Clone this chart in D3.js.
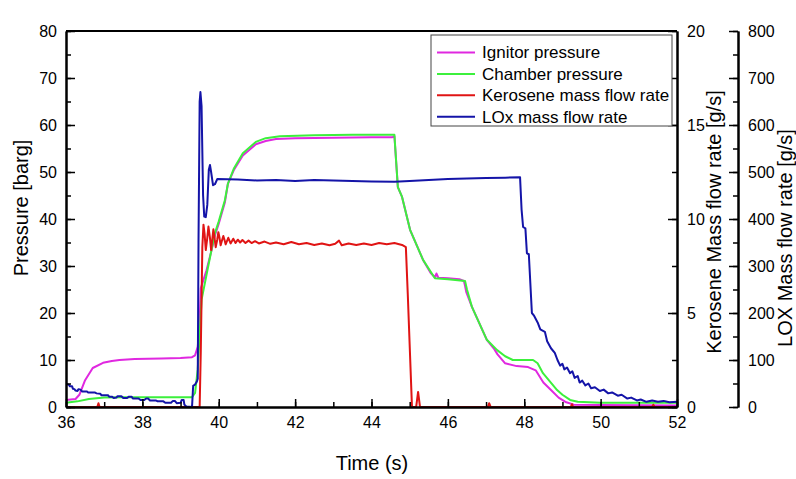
<!DOCTYPE html>
<html><head><meta charset="utf-8">
<script src="https://cdn.jsdelivr.net/npm/d3@7"></script>
<style>
body{margin:0;background:#fff}
text{font-family:Arial,"Liberation Sans",sans-serif;fill:#000}
</style>
</head><body>
<svg id="chart" width="796" height="479"></svg>
<script>
// ---------- DATA ----------
const timeDomain = [36, 52];
const pressureDomain = [0, 80];
const keroseneDomain = [0, 20];
const loxDomain = [0, 800];
const timeTicks = [36, 38, 40, 42, 44, 46, 48, 50, 52];
const pressureTicks = [0, 10, 20, 30, 40, 50, 60, 70, 80];
const keroseneTicks = [0, 5, 10, 15, 20];
const loxTicks = [0, 100, 200, 300, 400, 500, 600, 700, 800];
const seriesNames = ["Ignitor pressure", "Chamber pressure", "Kerosene mass flow rate", "LOx mass flow rate"];
const seriesColors = ["#e028e0", "#3cf03c", "#e01414", "#1414a8"];

// [time s, pressure barg]
const ignitorPressure = [
  [36.0,1.5],[36.25,1.7],[36.35,2.6],[36.5,5.7],[36.7,8.3],[36.97,9.4],[37.2,9.8],[37.4,10.0],
  [37.8,10.2],[38.5,10.3],[39.0,10.4],[39.3,10.6],[39.38,11.0],[39.45,12.8],[39.5,18],[39.53,25.3],
  [39.68,29.1],[39.8,33],[39.9,36.5],[40.0,39],[40.16,43.5],[40.24,47.5],[40.4,50.5],[40.63,53.5],
  [40.97,55.9],[41.23,56.6],[41.5,57.0],[42.0,57.2],[43.0,57.3],[44.0,57.4],[44.55,57.4],[44.6,57.6],
  [44.69,46.8],[44.8,44.7],[45.01,37.7],[45.35,31.3],[45.55,28.5],[45.66,27.6],[45.7,28.4],[45.75,27.5],
  [46.0,27.4],[46.3,27.2],[46.42,26.8],[46.45,25.8],[46.48,24.5],[46.63,21.3],[47.02,14.3],[47.2,12.5],
  [47.3,11.2],[47.5,9.3],[47.8,8.7],[48.1,8.5],[48.3,7.8],[48.5,5.2],[48.7,3.6],[48.9,2.0],[49.1,1.0],
  [49.3,0.5],[50.0,0.4],[52.0,0.3]
];
const chamberPressure = [
  [36.0,0.9],[36.3,1.2],[36.6,1.7],[37.0,2.0],[37.5,2.1],[38.5,2.1],[39.3,2.1],[39.38,3.0],[39.45,8],
  [39.55,22.8],[39.72,29.8],[39.9,37],[40.0,39.5],[40.16,44],[40.24,47.5],[40.4,50.8],[40.63,54],
  [40.97,56.4],[41.23,57.2],[41.6,57.6],[42.5,57.8],[43.5,57.9],[44.6,57.9],[44.69,46.8],[44.8,44.7],
  [45.01,37.7],[45.35,31.3],[45.66,27.4],[46.0,27.2],[46.45,26.8],[46.5,25],[46.63,21.3],[47.02,14.3],
  [47.29,12.1],[47.5,10.8],[47.7,10.0],[48.23,10.0],[48.35,9.3],[48.49,7.2],[48.86,3.6],[49.0,2.6],
  [49.2,1.5],[49.4,1.1],[50.0,0.9],[52.0,0.9]
];
// [time s, kerosene g/s]
const keroseneFlow = [
  [36.0,0],[36.82,0],[36.85,0.2],[36.88,0],[39.5,0],[39.53,3],[39.57,8.5],[39.6,9.7],[39.63,9.2],
  [39.66,8.35],[39.7,9.0],[39.73,9.6],[39.77,9.0],[39.8,8.35],[39.83,8.9],[39.86,9.45],[39.89,9.0],
  [39.92,8.5],[39.96,8.9],[39.99,9.3],[40.02,9.0],[40.05,8.6],[40.09,8.9],[40.12,9.1],[40.15,8.9],
  [40.18,8.65],[40.25,9.0],[40.31,8.7],[40.38,8.95],[40.44,8.72],[40.5,8.9],[40.56,8.75],[40.62,8.88],
  [40.7,8.72],[40.78,8.85],[40.86,8.72],[40.95,8.82],[41.05,8.7],[41.2,8.8],[41.35,8.68],[41.5,8.75],
  [41.7,8.66],[41.9,8.78],[42.1,8.66],[42.3,8.72],[42.5,8.62],[42.7,8.7],[42.9,8.6],[43.05,8.68],
  [43.15,8.85],[43.22,8.6],[43.4,8.7],[43.6,8.62],[43.8,8.7],[44.0,8.62],[44.2,8.72],[44.4,8.66],
  [44.6,8.72],[44.8,8.62],[44.9,8.5],[44.95,6],[45.06,0],[45.17,0],[45.22,0.8],[45.27,0],[47.05,0],
  [47.08,0.2],[47.12,0],[49.22,0],[49.25,0.15],[49.28,0],[51.35,0],[51.38,0.12],[51.41,0],[52.0,0]
];
// [time s, LOx g/s]
const loxFlow = [
  [36.0,49],[36.08,47],[36.1,44],[36.16,44],[36.18,39],[36.22,38],[36.25,35],[36.3,34],[36.33,38],
  [36.38,37],[36.42,33],[36.55,33],[36.58,31],[36.75,31],[36.8,29],[36.9,28],[36.93,25],[37.1,25],
  [37.13,22],[37.2,22],[37.25,19],[37.32,20],[37.35,23],[37.45,23],[37.5,19],[37.6,19],[37.65,22],
  [37.72,22],[37.75,18],[37.9,18],[37.95,15],[38.05,15],[38.1,18],[38.15,18],[38.2,14],[38.35,14],
  [38.4,12],[38.55,12],[38.6,9],[38.75,9],[38.8,13],[38.85,13],[38.9,8],[39.0,9],[39.03,15],[39.08,15],
  [39.1,5],[39.15,1],[39.3,0],[39.33,45],[39.38,48],[39.43,55],[39.45,60],[39.47,350],[39.5,650],
  [39.52,670],[39.55,640],[39.59,450],[39.62,405],[39.66,404],[39.7,430],[39.74,505],[39.77,515],
  [39.8,500],[39.85,472],[39.9,474],[39.96,485],[40.5,484],[41.0,482],[41.5,483],[42.0,481],[42.5,483],
  [43.0,482],[43.5,481],[44.0,480],[44.6,479],[45.0,481],[45.5,483],[46.0,485],[46.5,486],[47.0,487],
  [47.5,488],[47.89,489],[47.93,420],[47.97,383],[48.03,380],[48.07,327],[48.12,325],[48.2,200],
  [48.25,195],[48.35,180],[48.42,165],[48.54,160],[48.6,140],[48.7,125],[48.8,115],[48.87,100],
  [48.94,88],[49.0,92],[49.05,80],[49.12,84],[49.2,72],[49.26,76],[49.32,62],[49.4,66],[49.45,52],
  [49.52,56],[49.6,46],[49.68,50],[49.75,40],[49.85,42],[49.98,34],[50.08,37],[50.2,29],[50.3,31],
  [50.45,24],[50.55,26],[50.7,18],[50.8,20],[50.95,14],[51.05,16],[51.2,11],[51.35,14],[51.5,11],
  [51.65,13],[51.8,10],[52.0,11]
];

// ---------- LAYOUT ----------
const L = 66, R = 677, T = 31, B = 407, LOXAXIS = 738;
const svg = d3.select("#chart");
const x = d3.scaleLinear().domain(timeDomain).range([L, R]);
const yP = d3.scaleLinear().domain(pressureDomain).range([B, T]);
const yK = d3.scaleLinear().domain(keroseneDomain).range([B, T]);
const yL = d3.scaleLinear().domain(loxDomain).range([B, T]);

svg.append("defs").append("clipPath").attr("id","clip")
  .append("rect").attr("x",L).attr("y",T-2).attr("width",R-L).attr("height",B-T+2);

const lineP = d3.line().x(d=>x(d[0])).y(d=>yP(d[1]));
const lineK = d3.line().x(d=>x(d[0])).y(d=>yK(d[1]));
const lineL = d3.line().x(d=>x(d[0])).y(d=>yL(d[1]));
const g = svg.append("g").attr("clip-path","url(#clip)");
[[ignitorPressure,lineP,0],[chamberPressure,lineP,1],[keroseneFlow,lineK,2],[loxFlow,lineL,3]].forEach(([d,ln,i])=>{
  g.append("path").datum(d).attr("d",ln).attr("fill","none")
    .attr("stroke",seriesColors[i]).attr("stroke-width",2).attr("stroke-linejoin","round");
});

function styleAxis(sel){
  sel.select(".domain").attr("stroke","#000").attr("stroke-width",2);
  sel.selectAll(".tick line").attr("stroke","#000").attr("stroke-width",1.5);
  sel.selectAll("text").style("font-size","16px").style("font-family","Arial, 'Liberation Sans', sans-serif").attr("fill","#000");
}
function minorTicks(domain, step){ const a=[]; for(let v=domain[0]; v<=domain[1]+1e-9; v+=step) a.push(+v.toFixed(4)); return a; }

// bottom axis
svg.append("g").attr("transform",`translate(0,${B})`)
  .call(d3.axisBottom(x).tickValues(minorTicks(timeDomain,1)).tickSize(-5).tickSizeOuter(0).tickFormat(""))
  .call(styleAxis);
svg.append("g").attr("transform",`translate(0,${B})`)
  .call(d3.axisBottom(x).tickValues(timeTicks).tickSize(-8).tickSizeOuter(0).tickPadding(10).tickFormat(d3.format("d")))
  .call(styleAxis);
// left axis
svg.append("g").attr("transform",`translate(${L},0)`)
  .call(d3.axisLeft(yP).tickValues(minorTicks(pressureDomain,5)).tickSize(-5).tickSizeOuter(0).tickFormat(""))
  .call(styleAxis);
svg.append("g").attr("transform",`translate(${L},0)`)
  .call(d3.axisLeft(yP).tickValues(pressureTicks).tickSize(-9).tickSizeOuter(0).tickPadding(9).tickFormat(d3.format("d")))
  .call(styleAxis);
// right kerosene axis
svg.append("g").attr("transform",`translate(${R},0)`)
  .call(d3.axisRight(yK).tickValues(minorTicks(keroseneDomain,2.5)).tickSize(-5).tickSizeOuter(0).tickFormat(""))
  .call(styleAxis);
svg.append("g").attr("transform",`translate(${R},0)`)
  .call(d3.axisRight(yK).tickValues(keroseneTicks).tickSize(-9).tickSizeOuter(0).tickPadding(10).tickFormat(d3.format("d")))
  .call(styleAxis);
// LOX axis
svg.append("g").attr("transform",`translate(${LOXAXIS},0)`)
  .call(d3.axisRight(yL).tickValues(minorTicks(loxDomain,50)).tickSize(-5).tickSizeOuter(0).tickFormat(""))
  .call(styleAxis);
svg.append("g").attr("transform",`translate(${LOXAXIS},0)`)
  .call(d3.axisRight(yL).tickValues(loxTicks).tickSize(-9).tickSizeOuter(0).tickPadding(10).tickFormat(d3.format("d")))
  .call(styleAxis);
// top frame
svg.append("line").attr("x1",L).attr("x2",R).attr("y1",T).attr("y2",T).attr("stroke","#000").attr("stroke-width",2);

// titles
svg.append("text").attr("x",372).attr("y",470).attr("text-anchor","middle").style("font-size","20px").text("Time (s)");
svg.append("text").attr("transform","translate(28,208) rotate(-90)").attr("text-anchor","middle").style("font-size","20px").text("Pressure [barg]");
svg.append("text").attr("transform","translate(721,222) rotate(-90)").attr("text-anchor","middle").style("font-size","20px").text("Kerosene Mass flow rate [g/s]");
svg.append("text").attr("transform","translate(792,238) rotate(-90)").attr("text-anchor","middle").style("font-size","20px").text("LOX Mass flow rate [g/s]");

// legend
const lg = svg.append("g");
lg.append("rect").attr("x",431).attr("y",35).attr("width",241).attr("height",91)
  .attr("fill","#fff").attr("stroke","#444").attr("stroke-width",1);
seriesNames.forEach((n,i)=>{
  const yy = 52.5 + i*21.4;
  lg.append("line").attr("x1",437).attr("x2",475).attr("y1",yy).attr("y2",yy)
    .attr("stroke",seriesColors[i]).attr("stroke-width",2);
  lg.append("text").attr("x",482).attr("y",yy).attr("dy","0.35em").style("font-size","17px").text(n);
});
</script>
</body></html>
